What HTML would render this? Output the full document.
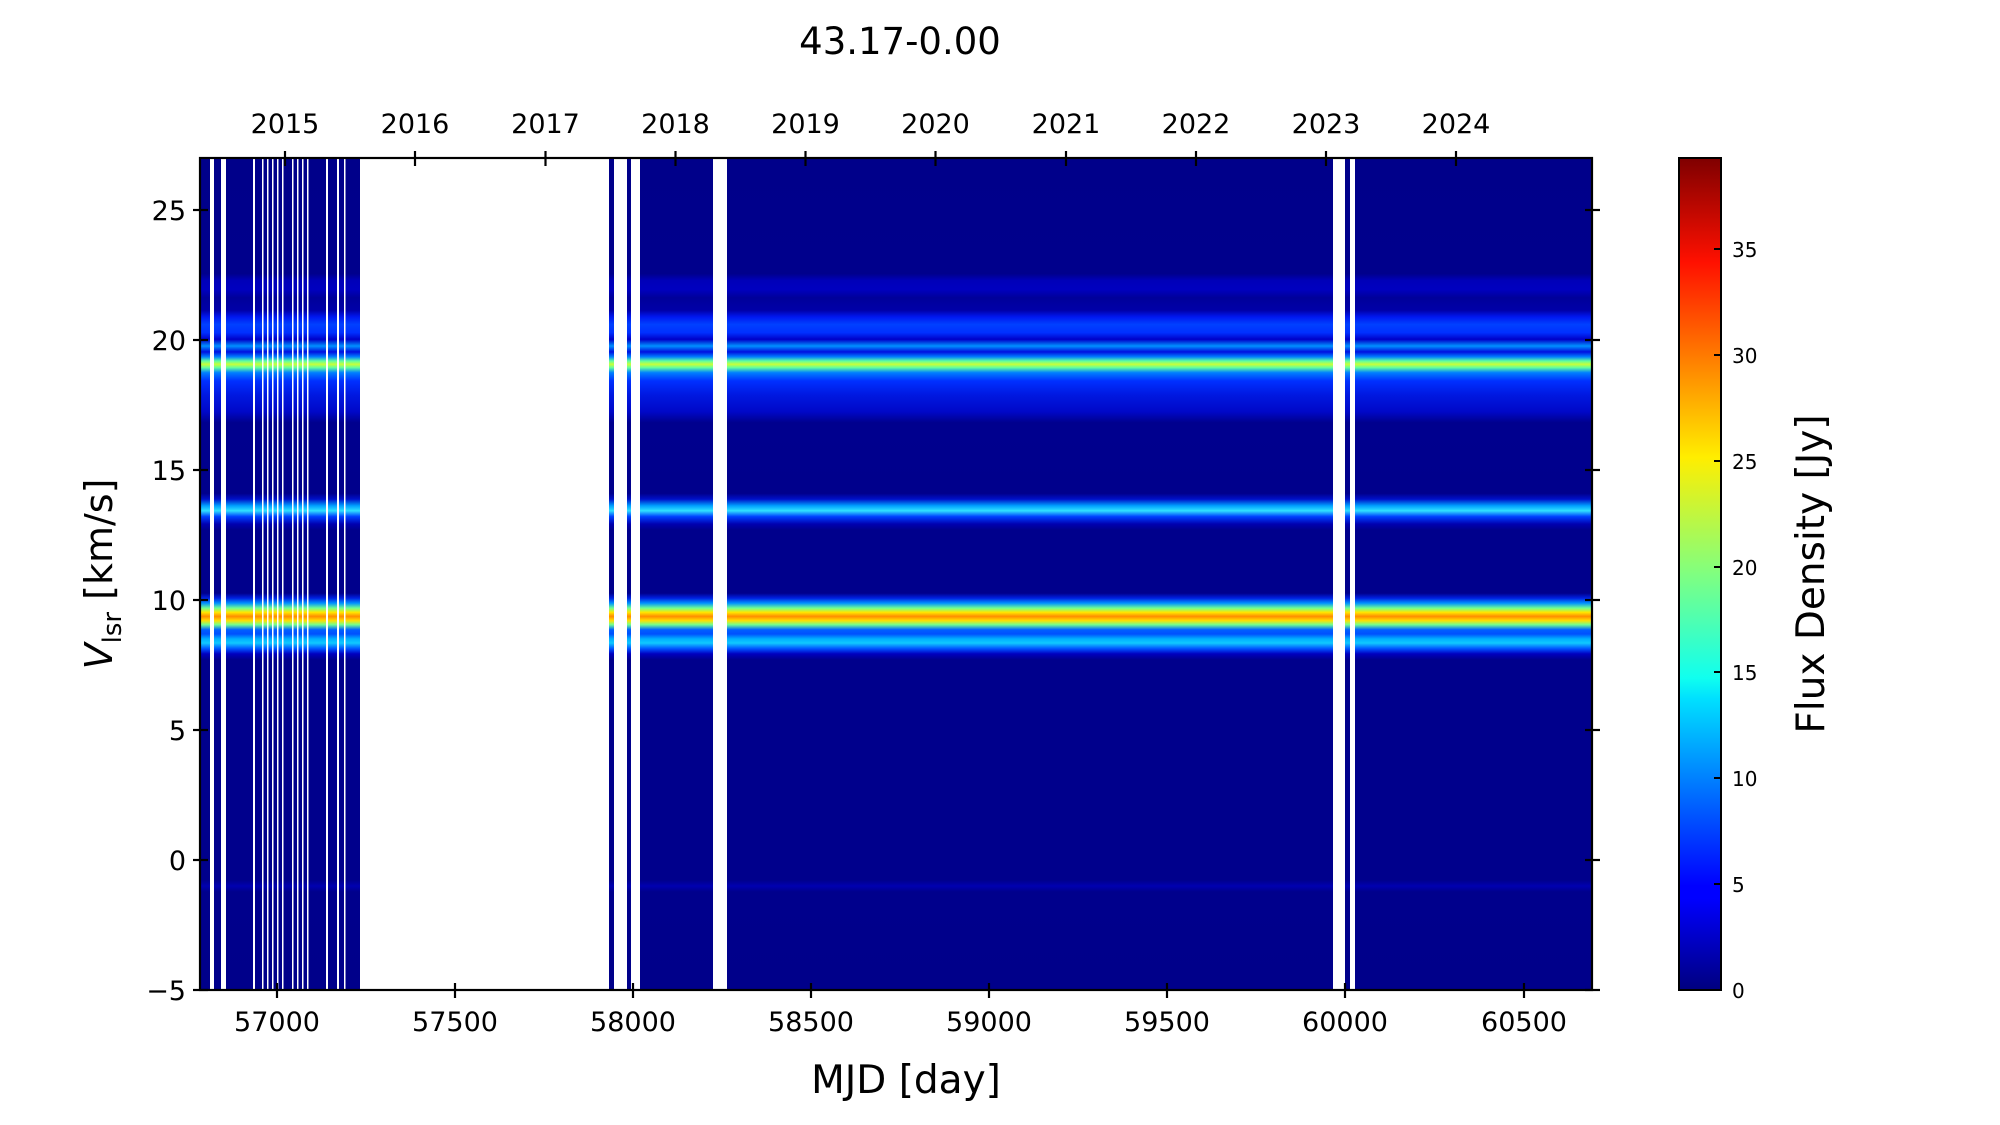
<!DOCTYPE html>
<html><head><meta charset="utf-8"><style>
html,body{margin:0;padding:0;background:#fff;}
svg{display:block;}
text{font-family:"DejaVu Sans","Liberation Sans",sans-serif;fill:#000;}
</style></head><body>
<svg width="2000" height="1125" viewBox="0 0 2000 1125" xmlns="http://www.w3.org/2000/svg">
<defs>
<linearGradient id="prof" gradientUnits="userSpaceOnUse" x1="0" y1="158" x2="0" y2="990">
<stop offset="0" stop-color="#00008a"/>
<stop offset="0.139" stop-color="#00008c"/>
<stop offset="0.147" stop-color="#0000b8"/>
<stop offset="0.158" stop-color="#0000c0"/>
<stop offset="0.168" stop-color="#00009a"/>
<stop offset="0.183" stop-color="#0000a8"/>
<stop offset="0.191" stop-color="#0018f0"/>
<stop offset="0.200" stop-color="#0040ff"/>
<stop offset="0.210" stop-color="#0030ff"/>
<stop offset="0.218" stop-color="#0000c8"/>
<stop offset="0.226" stop-color="#0090ff"/>
<stop offset="0.233" stop-color="#0010e0"/>
<stop offset="0.239" stop-color="#0080ff"/>
<stop offset="0.244" stop-color="#60ffa0"/>
<stop offset="0.248" stop-color="#c8ff38"/>
<stop offset="0.252" stop-color="#60ffa0"/>
<stop offset="0.258" stop-color="#0080ff"/>
<stop offset="0.268" stop-color="#0030ff"/>
<stop offset="0.285" stop-color="#0018e0"/>
<stop offset="0.305" stop-color="#0008c8"/>
<stop offset="0.318" stop-color="#00008e"/>
<stop offset="0.403" stop-color="#00008c"/>
<stop offset="0.410" stop-color="#0010c8"/>
<stop offset="0.418" stop-color="#00a0ff"/>
<stop offset="0.424" stop-color="#30e0ff"/>
<stop offset="0.431" stop-color="#0040ff"/>
<stop offset="0.440" stop-color="#0000b0"/>
<stop offset="0.447" stop-color="#00008c"/>
<stop offset="0.523" stop-color="#00008c"/>
<stop offset="0.529" stop-color="#0020e0"/>
<stop offset="0.535" stop-color="#0090ff"/>
<stop offset="0.541" stop-color="#70ff90"/>
<stop offset="0.546" stop-color="#ffe800"/>
<stop offset="0.551" stop-color="#ff8c00"/>
<stop offset="0.556" stop-color="#ffe000"/>
<stop offset="0.561" stop-color="#70ff90"/>
<stop offset="0.567" stop-color="#0060ff"/>
<stop offset="0.572" stop-color="#0050ff"/>
<stop offset="0.578" stop-color="#00b0ff"/>
<stop offset="0.583" stop-color="#10c8ff"/>
<stop offset="0.590" stop-color="#0050ff"/>
<stop offset="0.596" stop-color="#0000c0"/>
<stop offset="0.603" stop-color="#00008c"/>
<stop offset="0.868" stop-color="#00008c"/>
<stop offset="0.875" stop-color="#0000b0"/>
<stop offset="0.882" stop-color="#00008c"/>
<stop offset="1" stop-color="#00008a"/>
</linearGradient>
<linearGradient id="jet" x1="0" y1="1" x2="0" y2="0">
<stop offset="0" stop-color="#00007f"/>
<stop offset="0.11" stop-color="#0000ff"/>
<stop offset="0.125" stop-color="#0000ff"/>
<stop offset="0.35" stop-color="#00e0ff"/>
<stop offset="0.375" stop-color="#10ffef"/>
<stop offset="0.5" stop-color="#80ff80"/>
<stop offset="0.64" stop-color="#ffee00"/>
<stop offset="0.875" stop-color="#ff1000"/>
<stop offset="1" stop-color="#7f0000"/>
</linearGradient>
</defs>

<text x="900" y="54" font-size="37" text-anchor="middle">43.17-0.00</text>

<rect x="200" y="158" width="1392" height="832" fill="url(#prof)"/>
<g fill="#fff">
<rect x="360" y="158" width="249" height="832"/>
<rect x="614" y="158" width="13" height="832"/>
<rect x="631" y="158" width="9" height="832"/>
<rect x="713" y="158" width="14" height="832"/>
<rect x="1333" y="158" width="12" height="832"/>
<rect x="1350" y="158" width="5" height="832"/>
<rect x="210" y="158" width="4" height="832"/>
<rect x="221" y="158" width="5" height="832"/>
<rect x="253" y="158" width="2" height="832"/>
<rect x="262" y="158" width="1.5" height="832"/>
<rect x="267" y="158" width="1.5" height="832"/>
<rect x="272" y="158" width="1.5" height="832"/>
<rect x="277" y="158" width="1.5" height="832"/>
<rect x="282" y="158" width="1.5" height="832"/>
<rect x="292" y="158" width="1.5" height="832"/>
<rect x="297" y="158" width="1.5" height="832"/>
<rect x="302" y="158" width="1.5" height="832"/>
<rect x="307" y="158" width="1.5" height="832"/>
<rect x="326" y="158" width="2" height="832"/>
<rect x="337" y="158" width="2" height="832"/>
<rect x="344" y="158" width="1.5" height="832"/>
</g>

<rect x="200" y="158" width="1392" height="832" fill="none" stroke="#000" stroke-width="2.2"/>
<g stroke="#000" stroke-width="2.2">
<line x1="277" y1="983" x2="277" y2="998"/><line x1="455" y1="983" x2="455" y2="998"/>
<line x1="633" y1="983" x2="633" y2="998"/><line x1="811" y1="983" x2="811" y2="998"/>
<line x1="989" y1="983" x2="989" y2="998"/><line x1="1167" y1="983" x2="1167" y2="998"/>
<line x1="1345" y1="983" x2="1345" y2="998"/><line x1="1524" y1="983" x2="1524" y2="998"/>
<line x1="285" y1="151" x2="285" y2="166"/><line x1="415" y1="151" x2="415" y2="166"/>
<line x1="545.5" y1="151" x2="545.5" y2="166"/><line x1="675.5" y1="151" x2="675.5" y2="166"/>
<line x1="805.5" y1="151" x2="805.5" y2="166"/><line x1="935.5" y1="151" x2="935.5" y2="166"/>
<line x1="1066" y1="151" x2="1066" y2="166"/><line x1="1196" y1="151" x2="1196" y2="166"/>
<line x1="1326" y1="151" x2="1326" y2="166"/><line x1="1456" y1="151" x2="1456" y2="166"/>
<line x1="193" y1="990" x2="208" y2="990"/><line x1="1585" y1="990" x2="1600" y2="990"/>
<line x1="193" y1="860" x2="208" y2="860"/><line x1="1585" y1="860" x2="1600" y2="860"/>
<line x1="193" y1="730" x2="208" y2="730"/><line x1="1585" y1="730" x2="1600" y2="730"/>
<line x1="193" y1="600" x2="208" y2="600"/><line x1="1585" y1="600" x2="1600" y2="600"/>
<line x1="193" y1="470" x2="208" y2="470"/><line x1="1585" y1="470" x2="1600" y2="470"/>
<line x1="193" y1="340" x2="208" y2="340"/><line x1="1585" y1="340" x2="1600" y2="340"/>
<line x1="193" y1="210" x2="208" y2="210"/><line x1="1585" y1="210" x2="1600" y2="210"/>
</g>
<g font-size="27" text-anchor="end">
<text x="186" y="1000">−5</text><text x="186" y="870">0</text><text x="186" y="740">5</text>
<text x="186" y="610">10</text><text x="186" y="480">15</text><text x="186" y="350">20</text><text x="186" y="220">25</text>
</g>
<g font-size="27" text-anchor="middle">
<text x="277" y="1031">57000</text><text x="455" y="1031">57500</text><text x="633" y="1031">58000</text>
<text x="811" y="1031">58500</text><text x="989" y="1031">59000</text><text x="1167" y="1031">59500</text>
<text x="1345" y="1031">60000</text><text x="1524" y="1031">60500</text>
<text x="285" y="133">2015</text><text x="415" y="133">2016</text><text x="545.5" y="133">2017</text>
<text x="675.5" y="133">2018</text><text x="805.5" y="133">2019</text><text x="935.5" y="133">2020</text>
<text x="1066" y="133">2021</text><text x="1196" y="133">2022</text><text x="1326" y="133">2023</text>
<text x="1456" y="133">2024</text>
</g>
<text x="906" y="1093" font-size="39" text-anchor="middle">MJD [day]</text>
<text transform="translate(112,574) rotate(-90)" font-size="38" text-anchor="middle"><tspan font-style="italic">V</tspan><tspan font-size="26" dy="9">lsr</tspan><tspan dy="-9"> [km/s]</tspan></text>

<rect x="1679" y="158" width="42" height="832" fill="url(#jet)" stroke="#000" stroke-width="2"/>
<g stroke="#000" stroke-width="2">
<line x1="1714" y1="990" x2="1721" y2="990"/><line x1="1714" y1="884" x2="1721" y2="884"/>
<line x1="1714" y1="778" x2="1721" y2="778"/><line x1="1714" y1="672" x2="1721" y2="672"/>
<line x1="1714" y1="567" x2="1721" y2="567"/><line x1="1714" y1="461" x2="1721" y2="461"/>
<line x1="1714" y1="355" x2="1721" y2="355"/><line x1="1714" y1="249" x2="1721" y2="249"/>
</g>
<g font-size="20">
<text x="1732" y="998">0</text><text x="1732" y="892">5</text><text x="1732" y="786">10</text>
<text x="1732" y="680">15</text><text x="1732" y="575">20</text><text x="1732" y="469">25</text>
<text x="1732" y="363">30</text><text x="1732" y="257">35</text>
</g>
<text transform="translate(1824,574) rotate(-90)" font-size="39" text-anchor="middle">Flux Density [Jy]</text>
</svg>
</body></html>
